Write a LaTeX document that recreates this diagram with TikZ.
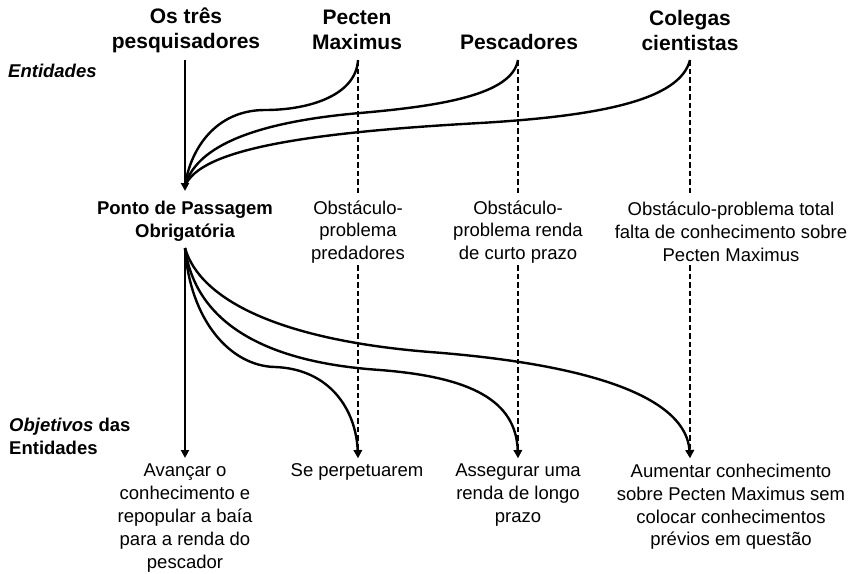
\documentclass[tikz,border=0pt]{standalone}
\usepackage{fontspec}
\setmainfont{Liberation Sans}
\usetikzlibrary{arrows.meta}
\begin{document}
\begin{tikzpicture}[x=1pt,y=-1pt,
  head/.style={font=\fontsize{21}{25}\selectfont\bfseries, align=center, inner sep=0pt},
  body/.style={font=\fontsize{18.5}{22.8}\selectfont, align=center, inner sep=0pt},
  bodyb/.style={body, font=\fontsize{18.5}{22.8}\selectfont\bfseries},
  link/.style={line width=2.4pt},
  dline/.style={line width=2.2pt, dash pattern=on 5.5pt off 3pt},
  tip/.style={-{Triangle[length=8pt,width=8pt]}}
]
\useasboundingbox (0,0) rectangle (853,573);

% headings
\node[head] (h1) at (186,30) {Os três\\pesquisadores};
\node[head] (h2) at (357,30) {Pecten\\Maximus};
\node[head] (h3) at (519,42) {Pescadores};
\node[head] (h4) at (690,30) {Colegas\\cientistas};

\node[bodyb, font=\fontsize{18.5}{22.8}\selectfont\bfseries\itshape, anchor=west] (ent) at (8,71) {Entidades};
\node[bodyb, align=left, anchor=west] (obj) at (9,436) {\textit{Objetivos} das\\Entidades};

% middle row
\node[bodyb] (ppo) at (185,221) {Ponto de Passagem\\Obrigatória};
\node[body] (o1) at (358,232) {Obstáculo-\\problema\\predadores};
\node[body] (o2) at (518,232) {Obstáculo-\\problema renda\\de curto prazo};
\node[body] (o3) at (731,232) {Obstáculo-problema total\\falta de conhecimento sobre\\Pecten Maximus};

% bottom row
\node[body] (g1) at (185,518) {Avançar o\\conhecimento e\\repopular a baía\\para a renda do\\pescador};
\node[body] (g2) at (357,472) {Se perpetuarem};
\node[body] (g3) at (518,495) {Assegurar uma\\renda de longo\\prazo};
\node[body] (g4) at (731,507) {Aumentar conhecimento\\sobre Pecten Maximus sem\\colocar conhecimentos\\prévios em questão};

% coordinates
\coordinate (t1) at (185,60);
\coordinate (t2) at (358,60);
\coordinate (t3) at (518,60);
\coordinate (t4) at (690,60);
\coordinate (m1) at (185,191);
\coordinate (m1e) at (185,186);
\coordinate (d2a) at (358,194);
\coordinate (d3a) at (518,194);
\coordinate (d4a) at (690,194);
\coordinate (s1) at (185,248);
\coordinate (d2b) at (358,265);
\coordinate (d3b) at (518,265);
\coordinate (d4b) at (690,265);
\coordinate (b1) at (185,458);
\coordinate (b2) at (358,458);
\coordinate (b3) at (518,458);
\coordinate (b4) at (690,458);

% top part
\draw[link,tip] (t1) -- (m1);
\draw[dline] (t2) -- (d2a);
\draw[dline] (t3) -- (d3a);
\draw[dline] (t4) -- (d4a);
\draw[link] (t2) .. controls (356,95) and (310,110) .. (265,110) .. controls (215,110) and (190,150) .. (m1e);
\draw[link] (t3) .. controls (512,95) and (440,106) .. (360,113) .. controls (245,123) and (195,150) .. (m1e);
\draw[link] (t4) .. controls (680,100) and (600,116) .. (480,123) .. controls (300,133) and (200,150) .. (m1e);

% bottom part
\draw[link,tip] (s1) -- (b1);
\draw[dline,tip] (d2b) -- (b2);
\draw[dline,tip] (d3b) -- (b3);
\draw[dline,tip] (d4b) -- (b4);
\draw[link,tip] (s1) .. controls (190,320) and (230,366) .. (275,367) .. controls (330,369) and (356,410) .. (b2);
\draw[link,tip] (s1) .. controls (195,320) and (260,362) .. (380,370) .. controls (470,377) and (516,400) .. (b3);
\draw[link,tip] (s1) .. controls (200,300) and (280,340) .. (430,352) .. controls (600,365) and (686,400) .. (b4);
\end{tikzpicture}
\end{document}
